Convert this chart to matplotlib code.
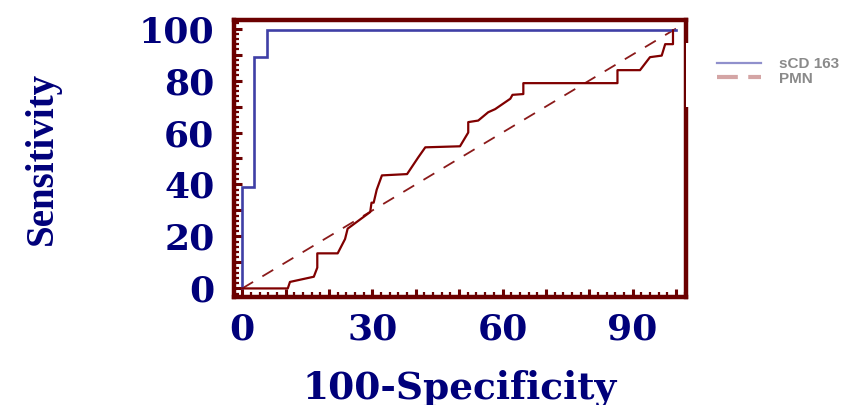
import matplotlib
matplotlib.use("Agg")
import matplotlib.pyplot as plt
from matplotlib.ticker import FixedLocator, FuncFormatter, MultipleLocator
from matplotlib.lines import Line2D
from matplotlib.patches import Rectangle

# ---- data ----
scd163_x = [0, 0, 2.8, 2.8, 5.8, 5.8, 100]
scd163_y = [0, 39, 39, 89, 89, 99.5, 99.5]

pmn_x = [0, 10.5, 11, 16.5, 17.3, 17.3, 22, 23.7, 24.3, 29.5, 29.8, 30.3, 31, 32.2, 38,
         40.6, 42.2, 50.2, 52.1, 52.1, 54.4, 56.7, 58.3, 61.8, 62.3, 64.8, 64.8, 86.5,
         86.5, 91.7, 94, 96.7, 97.5, 99.3, 99.3]
pmn_y = [0, 0, 2.5, 4.5, 8, 13.5, 13.5, 19, 23, 29.4, 33, 33, 38, 43.5, 44,
         50.5, 54.3, 54.7, 60, 64, 64.6, 67.8, 69, 73, 74.5, 74.8, 79, 79,
         84, 84, 89, 89.6, 94, 94, 99.3]

ref_x = [0, 100]
ref_y = [0, 100]

x_ticks = [0, 30, 60, 90]
y_ticks = [0, 20, 40, 60, 80, 100]
legend_labels = ["sCD 163", "PMN"]

NAVY = "#00007a"
MAROON = "#6b0000"

fig = plt.figure(figsize=(8.49, 4.05), dpi=100)
W, H = 849, 405
ax = fig.add_axes([234 / W, 1 - 297 / H, 452 / W, 277 / H])

ax.plot(scd163_x, scd163_y, color="#3f3fa6", lw=1.9, zorder=3, solid_joinstyle="miter")
ax.plot(pmn_x, pmn_y, color="#800000", lw=1.6, zorder=3)
ax.plot(ref_x, ref_y, color="#8b1a1a", lw=1.3, linestyle=(0, (7, 6)), zorder=2)

ax.set_xlim(-1.9, 102.3)
ax.set_ylim(-3.3, 103.3)

for s in ax.spines.values():
    s.set_color(MAROON)
    s.set_linewidth(3.2)

ax.xaxis.set_major_locator(FixedLocator(list(range(0, 101, 10))))
ax.xaxis.set_major_formatter(FuncFormatter(lambda v, p: f"{int(round(v))}" if int(round(v)) in x_ticks else ""))
ax.xaxis.set_minor_locator(MultipleLocator(2))
ax.yaxis.set_major_locator(FixedLocator(list(range(0, 101, 10))))
ax.yaxis.set_major_formatter(FuncFormatter(lambda v, p: f"{int(round(v))}" if int(round(v)) in y_ticks else ""))
ax.yaxis.set_minor_locator(MultipleLocator(2))

ax.tick_params(axis="both", which="major", direction="in", length=6, width=2.2, color=MAROON,
               labelcolor=NAVY, labelsize=26)
ax.tick_params(axis="both", which="minor", direction="in", length=3.5, width=1.6, color=MAROON)
ax.tick_params(axis="x", which="major", pad=11)
ax.tick_params(axis="y", which="major", pad=14)
for lab in ax.get_xticklabels() + ax.get_yticklabels():
    lab.set_fontfamily("DejaVu Serif")
    lab.set_fontweight("bold")

ax.set_xlabel("100-Specificity", family="DejaVu Serif", fontweight="bold", fontsize=27, color=NAVY)
ax.xaxis.set_label_coords(0.5, -0.26)
ax.set_ylabel("Sensitivity", family="Liberation Serif", fontweight="bold", fontsize=28, color=NAVY)
ax.yaxis.label.set_va("center")
ax.yaxis.set_label_coords(-0.425, 0.5)

# white area behind legend (covers part of right frame)
fig.patches.append(Rectangle((685.5 / W, 1 - 107 / H), (W - 685.5) / W, 64 / H,
                             transform=fig.transFigure, facecolor="white", edgecolor="none", zorder=5))

handles = [Line2D([], [], color="#9090cc", lw=1.6),
           Line2D([], [], color="#d4a5a5", lw=3, linestyle=(0, (5, 2.5)))]
leg = fig.legend(handles, legend_labels, loc="upper left", bbox_to_anchor=(717 / W, 1 - 57 / H),
                 frameon=False, borderpad=0, borderaxespad=0, handlelength=2.9, handletextpad=1.15,
                 labelspacing=0.05, prop={"family": "Liberation Sans", "weight": "bold", "size": 11})
leg.set_zorder(6)
for t in leg.get_texts():
    t.set_color("#8a8a8a")

fig.savefig("out.png", dpi=100, facecolor="white")
